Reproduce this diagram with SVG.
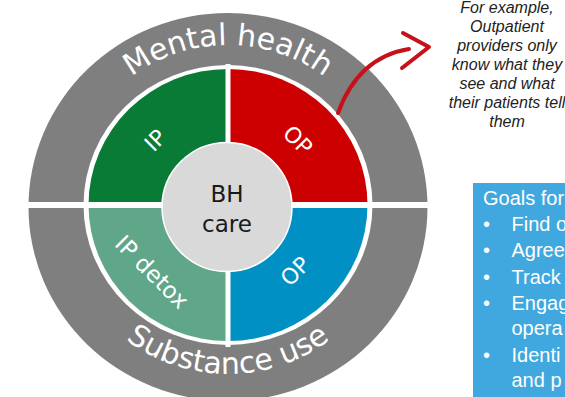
<svg xmlns="http://www.w3.org/2000/svg" width="565" height="397" viewBox="0 0 565 397">
<defs>
<style>
.ring{font-family:"DejaVu Sans",Verdana,sans-serif;font-size:30px;fill:#fff}
.seg{font-family:"DejaVu Sans",Verdana,sans-serif;font-size:22px;fill:#fff;text-anchor:middle}
.core{font-family:"DejaVu Sans",Verdana,sans-serif;font-size:23px;fill:#1a1a1a;text-anchor:middle}
.note{font-family:"Liberation Sans",Arial,sans-serif;font-size:16px;font-style:italic;fill:#222;text-anchor:middle}
.goal{font-family:"Liberation Sans",Arial,sans-serif;font-size:20px;fill:#fff}
.arrow{fill:none;stroke:#c8101a;stroke-width:4;stroke-linecap:round;stroke-linejoin:round}
</style>
<path id="topArc" d="M66,207 A162,162 0 0 1 390,207"/>
<path id="botArc" d="M59,205 A169,169 0 0 0 397,205"/>
</defs>
<rect width="565" height="397" fill="#fff"/>
<g id="outer-ring">
<ellipse cx="228" cy="207" rx="199.5" ry="194" fill="#7f7f7f"/>
<ellipse cx="228" cy="205" rx="144.5" ry="140" fill="#fff"/>
</g>
<g id="ip-mental">
<path d="M228,205 L88.5,205 A139.5,136 0 0 1 228,69 Z" fill="#0a7a37"/>
<text class="seg" transform="translate(155,140) rotate(-45)" y="8">IP</text>
</g>
<g id="op-mental">
<path d="M228,205 L228,69 A139.5,136 0 0 1 367.5,205 Z" fill="#cc0000"/>
<text class="seg" transform="translate(298,140) rotate(45)" y="8">OP</text>
</g>
<g id="op-substance">
<path d="M228,205 L367.5,205 A139.5,136 0 0 1 228,341 Z" fill="#0090c4"/>
<text class="seg" transform="translate(295,271) rotate(-45)" y="8">OP</text>
</g>
<g id="ip-detox">
<path d="M228,205 L228,341 A139.5,136 0 0 1 88.5,205 Z" fill="#60a689"/>
<text class="seg" transform="translate(152,272) rotate(45)" y="8" style="font-size:23px">IP detox</text>
</g>
<g id="gaps">
<rect x="24" y="202" width="408" height="6" fill="#fff"/>
<rect x="225.5" y="64" width="5" height="283" fill="#fff"/>
</g>
<g id="ring-labels">
<text class="ring"><textPath href="#topArc" startOffset="50%" text-anchor="middle">Mental health</textPath></text>
<text class="ring"><textPath href="#botArc" startOffset="50%" text-anchor="middle">Substance use</textPath></text>
</g>
<g id="bh-care">
<ellipse cx="227" cy="207" rx="65" ry="64.5" fill="#d9d9d9" stroke="#fff" stroke-width="1.5"/>
<text class="core" x="227" y="202">BH</text>
<text class="core" x="227" y="232">care</text>
</g>
<g id="connectors">
<path class="arrow" d="M338,113 C350,80 372,55 409,49"/>
<path class="arrow" d="M403,33 L429,47 L402,68"/>
</g>
<g id="note">
<text class="note" x="507" y="12.5">For example,</text>
<text class="note" x="507" y="31.5">Outpatient</text>
<text class="note" x="507" y="50.5">providers only</text>
<text class="note" x="507" y="69.5">know what they</text>
<text class="note" x="507" y="88.7">see and what</text>
<text class="note" x="507" y="108">their patients tell</text>
<text class="note" x="507" y="127.3">them</text>
</g>
<g id="goals">
<rect x="473" y="183" width="92" height="214" fill="#40a8de"/>
<text class="goal" x="483" y="205">Goals for</text>
<text class="goal" x="483" y="231">•</text><text class="goal" x="511.5" y="231">Find o</text>
<text class="goal" x="483" y="257">•</text><text class="goal" x="511.5" y="257">Agree</text>
<text class="goal" x="483" y="284">•</text><text class="goal" x="511.5" y="284">Track</text>
<text class="goal" x="483" y="310">•</text><text class="goal" x="511.5" y="310">Engag</text>
<text class="goal" x="511.5" y="335">opera</text>
<text class="goal" x="483" y="362">•</text><text class="goal" x="511.5" y="362">Identi</text>
<text class="goal" x="511.5" y="387">and p</text>
</g>
</svg>
